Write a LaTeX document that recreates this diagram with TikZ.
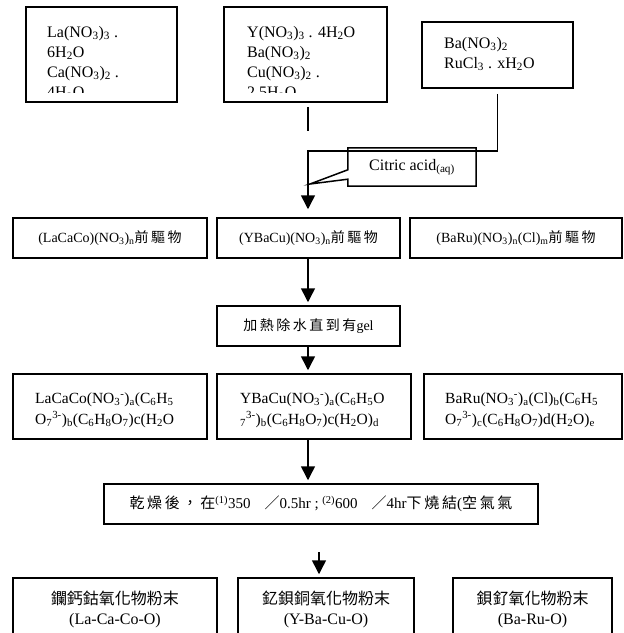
\documentclass[tikz,border=0pt]{standalone}
\usepackage{fontspec}
\setmainfont{Liberation Serif}
\newfontfamily\cjk{Noto Sans CJK TC}
\newfontfamily\cjks{Noto Sans CJK TC}[LetterSpace=18]
\usetikzlibrary{arrows.meta,calc}
\newcommand{\sbs}[1]{\textsubscript{#1}}
\newcommand{\sps}[1]{\textsuperscript{#1}}
\begin{document}
\begin{tikzpicture}[x=1pt,y=-1pt,
  boxs/.style={draw, line width=1.5pt, inner sep=0pt},
  lin/.style={line width=1.5pt},
  arr/.style={line width=1.5pt, -{Triangle[width=14pt,length=14pt]}},
  tl/.style={anchor=base west, inner sep=0pt, font=\fontsize{16}{19}\selectfont},
  tr/.style={anchor=base west, inner sep=0pt, font=\fontsize{15.5}{19}\selectfont},
  fin/.style={inner sep=0pt, font=\fontsize{16}{19}\selectfont}]
\clip (0,0) rectangle (624,633);
\fill[white] (0,0) rectangle (624,633);
% top boxes
\node[boxs, minimum width=151pt, minimum height=95pt] (b1) at (101.5,54.5) {};
\node[boxs, minimum width=163pt, minimum height=95pt] (b2) at (305.5,54.5) {};
\node[boxs, minimum width=151pt, minimum height=66pt] (b3) at (497.5,55) {};
\begin{scope}
\clip (26,7) rectangle (177,92.5);
\node[tl] (t1a) at (47,37) {La(NO\sbs{3})\sbs{3} .};
\node[tl] (t1b) at (47,57) {6H\sbs{2}O};
\node[tl] (t1c) at (47,77) {Ca(NO\sbs{3})\sbs{2} .};
\node[tl] (t1d) at (47,97.5) {4H\sbs{2}O};
\end{scope}
\begin{scope}
\clip (224,7) rectangle (387,92.5);
\node[tl] (t2a) at (247,37) {Y(NO\sbs{3})\sbs{3} . 4H\sbs{2}O};
\node[tl] (t2b) at (247,57) {Ba(NO\sbs{3})\sbs{2}};
\node[tl] (t2c) at (247,77) {Cu(NO\sbs{3})\sbs{2} .};
\node[tl] (t2d) at (247,97.5) {2.5H\sbs{2}O};
\end{scope}
\node[tl] (t3a) at (444,48) {Ba(NO\sbs{3})\sbs{2}};
\node[tl] (t3b) at (444,68) {RuCl\sbs{3} . xH\sbs{2}O};
% citric acid callout
\node[inner sep=0pt, minimum width=128pt, minimum height=38pt, font=\fontsize{16}{19}\selectfont] (cit) at (412,167) {Citric acid\sbs{(aq)}};
\draw[lin, line join=miter] (cit.south west) -- ($(cit.south west)+(0,-7)$) -- (310,184) -- ($(cit.north west)+(0,22)$) -- (cit.north west) -- (cit.north east) -- (cit.south east) -- cycle;
% connectors top
\coordinate (jn) at (308,151);
\coordinate (s1) at (308,131);
\draw[lin] ($(b2.south -| s1)+(0,4)$) -- (s1);
% row 2
\node[boxs, minimum width=194pt, minimum height=40pt, font=\fontsize{14}{17}\selectfont] (r2a) at (110,238) {(LaCaCo)(NO\sbs{3})\sbs{n}{\cjks 前驅物}};
\node[boxs, minimum width=183pt, minimum height=40pt, font=\fontsize{14}{17}\selectfont] (r2b) at (308.5,238) {(YBaCu)(NO\sbs{3})\sbs{n}{\cjks 前驅物}};
\node[boxs, minimum width=212pt, minimum height=40pt, font=\fontsize{14}{17}\selectfont] (r2c) at (516,238) {(BaRu)(NO\sbs{3})\sbs{n}(Cl)\sbs{m}{\cjks 前驅物}};
\draw[arr, shorten <=5pt, shorten >=8pt] (b3.south) |- (jn) -- (jn |- r2b.north);
% heat
\node[boxs, minimum width=183pt, minimum height=40pt, font=\fontsize{14}{17}\selectfont] (heat) at (308.5,326) {{\cjks 加熱除水直到有}gel};
\draw[arr, shorten >=3pt] (r2b.south -| jn) -- (heat.north -| jn);
% row 3
\node[boxs, minimum width=194pt, minimum height=65pt] (r3a) at (110,406.5) {};
\node[boxs, minimum width=194pt, minimum height=65pt] (r3b) at (314,406.5) {};
\node[boxs, minimum width=198pt, minimum height=65pt] (r3c) at (523,406.5) {};
\node[tr] (r3a1) at (35,403) {LaCaCo(NO\sbs{3}\sps{-})\sbs{a}(C\sbs{6}H\sbs{5}};
\node[tr] (r3a2) at (35,424) {O\sbs{7}\sps{3-})\sbs{b}(C\sbs{6}H\sbs{8}O\sbs{7})c(H\sbs{2}O};
\node[tr] (r3b1) at (240,403) {YBaCu(NO\sbs{3}\sps{-})\sbs{a}(C\sbs{6}H\sbs{5}O};
\node[tr] (r3b2) at (240,424) {\sbs{7}\sps{3-})\sbs{b}(C\sbs{6}H\sbs{8}O\sbs{7})c(H\sbs{2}O)\sbs{d}};
\node[tr] (r3c1) at (445,403) {BaRu(NO\sbs{3}\sps{-})\sbs{a}(Cl)\sbs{b}(C\sbs{6}H\sbs{5}};
\node[tr] (r3c2) at (445,424) {O\sbs{7}\sps{3-})\sbs{c}(C\sbs{6}H\sbs{8}O\sbs{7})d(H\sbs{2}O)\sbs{e}};
\draw[arr, shorten >=3pt] (heat.south -| jn) -- (r3b.north -| jn);
% drying
\node[boxs, minimum width=434pt, minimum height=40pt, font=\fontsize{15}{18}\selectfont] (dry) at (321,504) {{\cjks 乾燥後，在}\sps{(1)}350\hspace{14pt}{\cjk ／}0.5hr ; \sps{(2)}600\hspace{14pt}{\cjk ／}4hr{\cjks 下燒結}({\cjks 空氣氣}};
\draw[arr, shorten >=3pt] (r3b.south -| jn) -- (dry.north -| jn);
% final
\node[boxs, minimum width=204pt, minimum height=90pt] (f1) at (115,623) {};
\node[boxs, minimum width=176pt, minimum height=90pt] (f2) at (326,623) {};
\node[boxs, minimum width=159pt, minimum height=90pt] (f3) at (532.5,623) {};
\node[fin] (f1t) at (115,598) {\cjk 鑭鈣鈷氧化物粉末};
\node[fin] (f1s) at (115,621) {(La-Ca-Co-O)};
\node[fin] (f2t) at (326,598) {\cjk 釔鋇銅氧化物粉末};
\node[fin] (f2s) at (326,621) {(Y-Ba-Cu-O)};
\node[fin] (f3t) at (532.5,598) {\cjk 鋇釕氧化物粉末};
\node[fin] (f3s) at (532.5,621) {(Ba-Ru-O)};
\coordinate (fa) at (319,552);
\draw[arr, shorten >=3pt] (fa) -- (fa |- f2.north);
\end{tikzpicture}
\end{document}
